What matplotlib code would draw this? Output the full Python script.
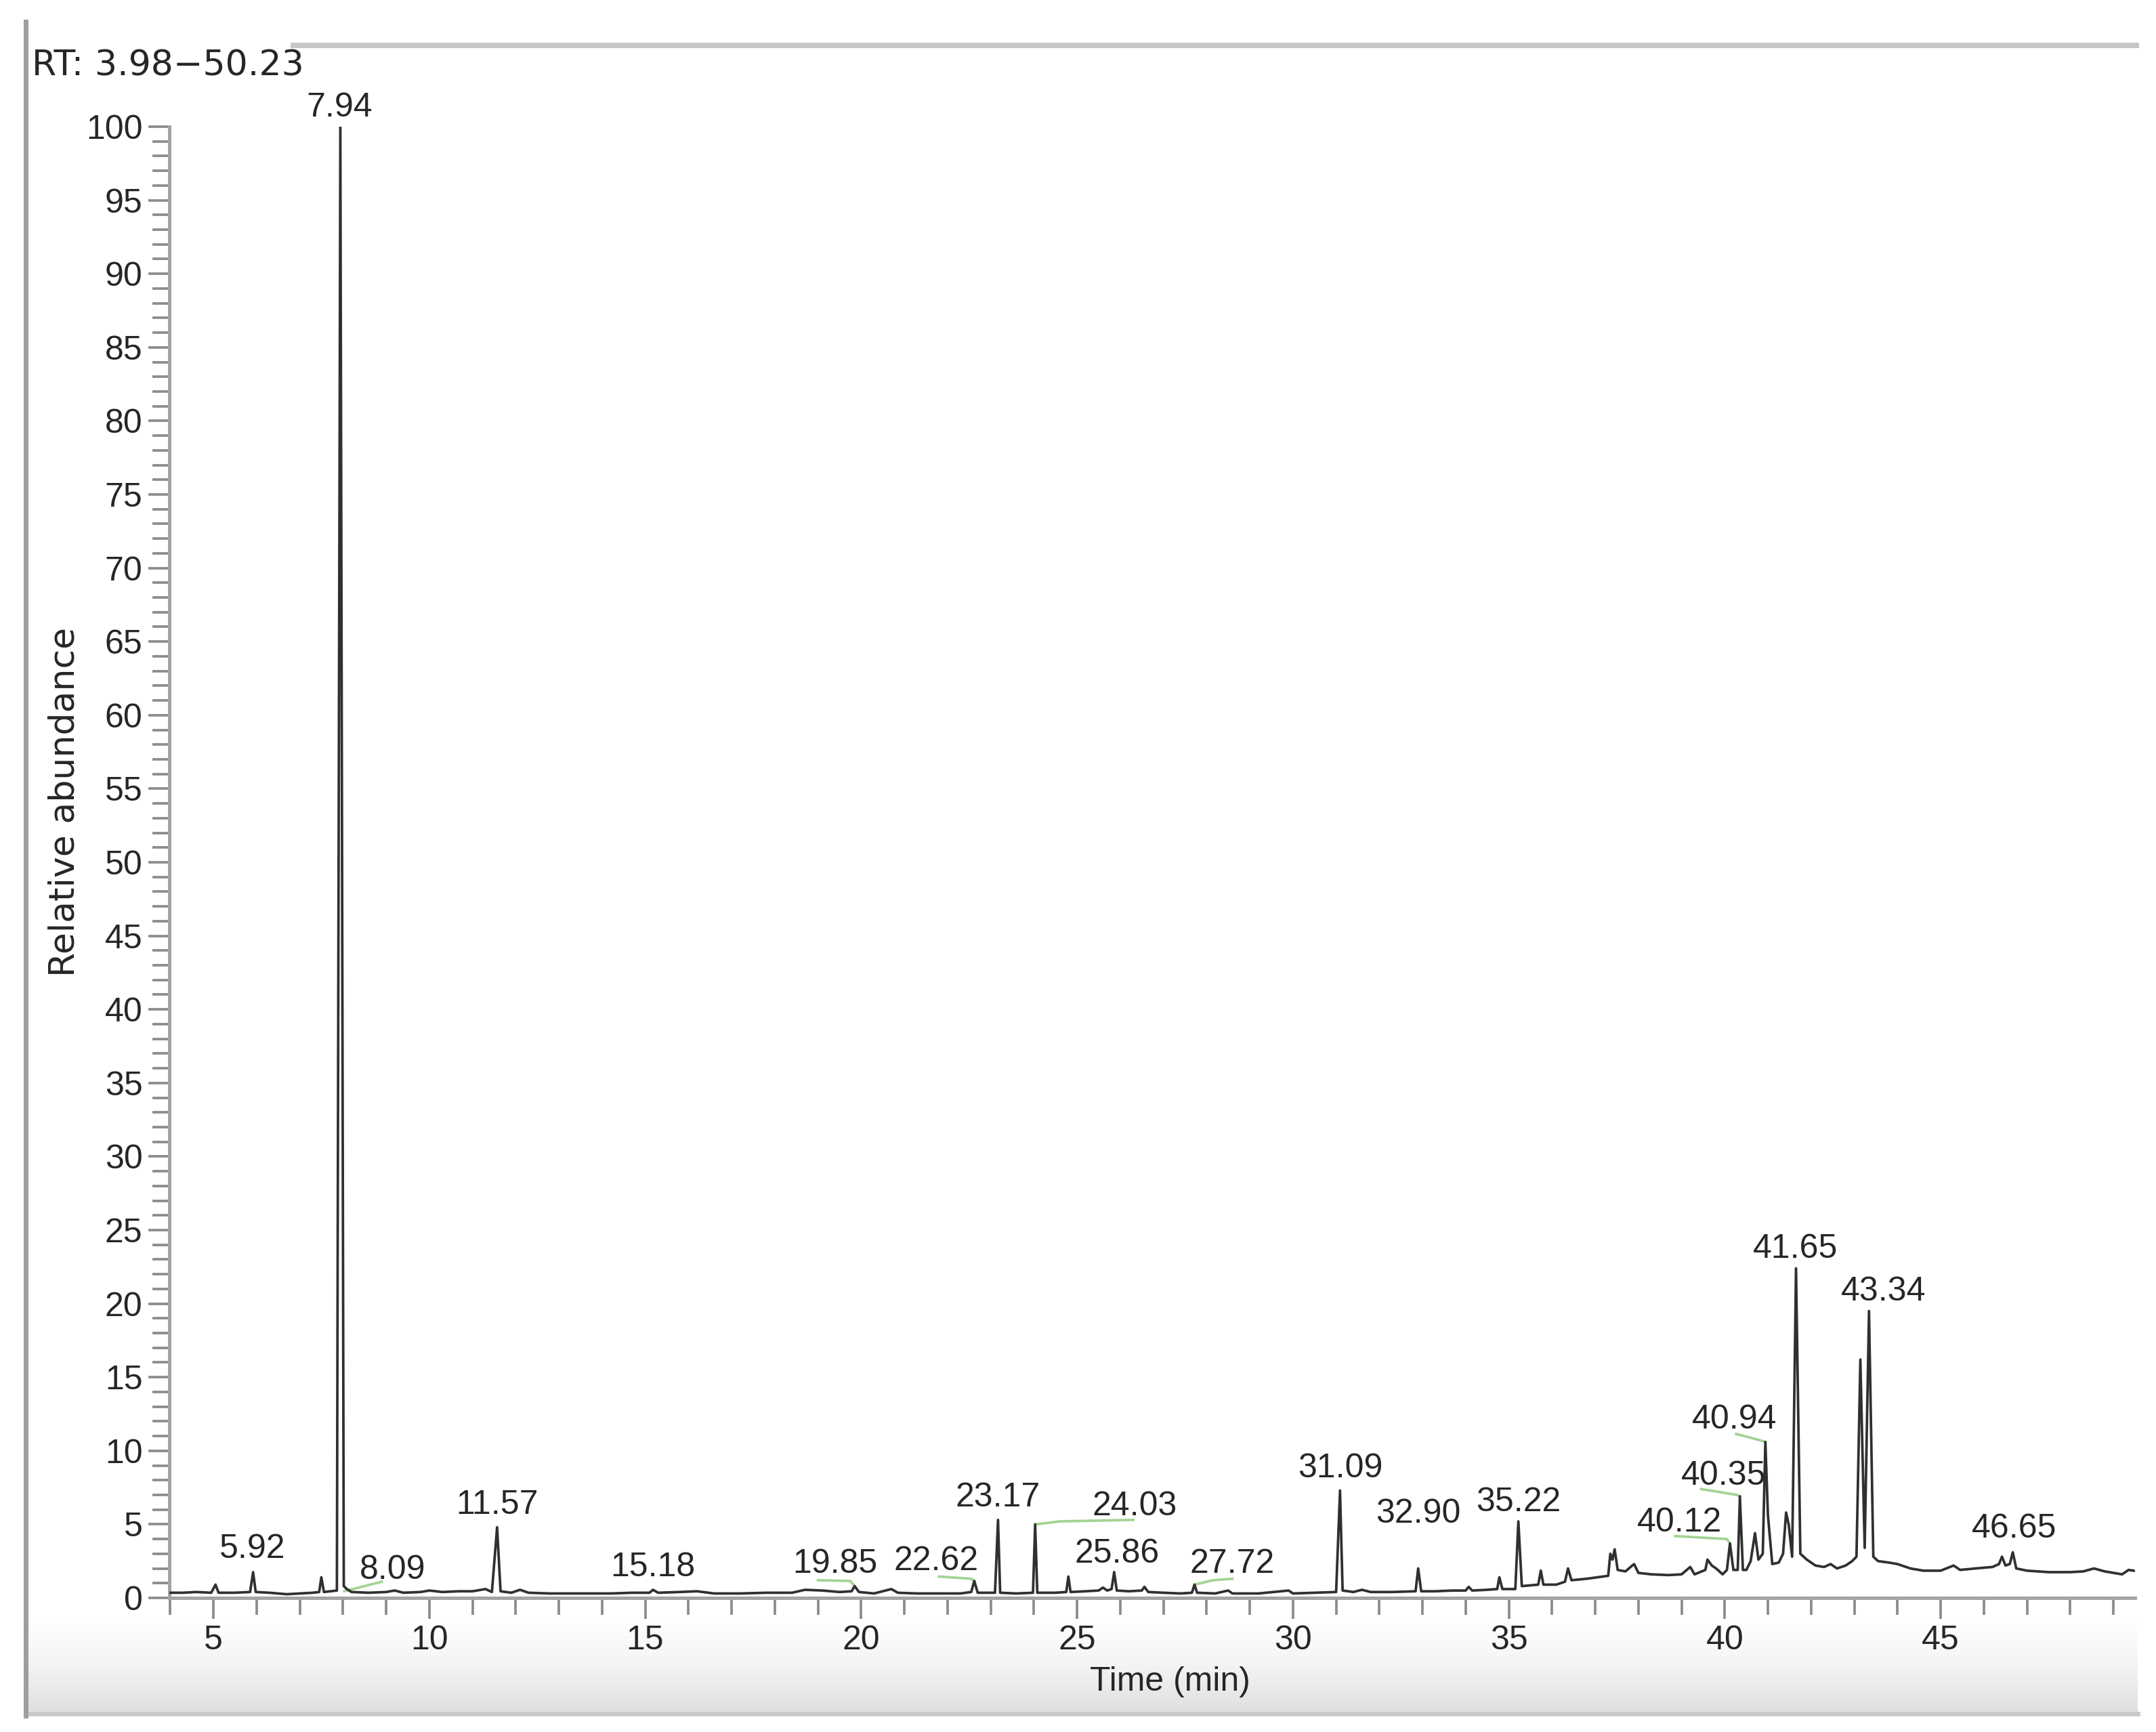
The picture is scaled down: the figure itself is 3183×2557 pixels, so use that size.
import numpy as np
import matplotlib as mpl
import matplotlib.pyplot as plt
from matplotlib.ticker import MultipleLocator
from matplotlib.colors import LinearSegmentedColormap

# -------------------- Settings --------------------
DPI = 300
FIGSIZE = (3183 / DPI, 2557 / DPI)
FIG_W, FIG_H = 3183, 2557

TEXT_C = "#262626"
AXIS_C = "#a4a4a4"
TRACE_C = "#303030"
GREEN = "#a3d394"

mpl.rcParams["font.family"] = ["Liberation Sans", "DejaVu Sans"]
mpl.rcParams["font.size"] = 12

# -------------------- Data --------------------
time_min = [
    3.98, 4.3, 4.6, 4.95, 5.05, 5.12, 5.5, 5.85, 5.92, 5.98,
    6.3, 6.7, 7.0, 7.3, 7.45, 7.5, 7.56, 7.86, 7.94, 8.02,
    8.09, 8.2, 8.6, 9.0, 9.2, 9.4, 9.8, 10.0, 10.3, 10.7,
    11.0, 11.3, 11.45, 11.57, 11.65, 11.9, 12.1, 12.3, 12.8, 13.5,
    14.2, 14.7, 15.1, 15.18, 15.3, 15.8, 16.2, 16.6, 17.2, 17.8,
    18.4, 18.7, 19.1, 19.5, 19.78, 19.85, 19.95, 20.3, 20.7, 20.85,
    21.3, 21.8, 22.3, 22.55, 22.62, 22.7, 23.1, 23.17, 23.22, 23.6,
    23.98, 24.03, 24.08, 24.5, 24.75, 24.8, 24.85, 25.2, 25.5, 25.6,
    25.7, 25.8, 25.86, 25.92, 26.2, 26.5, 26.56, 26.65, 27.0, 27.4,
    27.66, 27.72, 27.78, 28.2, 28.5, 28.6, 29.2, 29.9, 30.0, 30.5,
    31.0, 31.09, 31.15, 31.4, 31.6, 31.8, 32.3, 32.84, 32.90, 32.97,
    33.3, 33.7, 34.0, 34.07, 34.15, 34.5, 34.73, 34.78, 34.85, 35.15,
    35.22, 35.3, 35.5, 35.68, 35.74, 35.8, 36.1, 36.3, 36.37, 36.45,
    36.8, 37.05, 37.3, 37.35, 37.4, 37.45, 37.52, 37.7, 37.9, 38.0,
    38.3, 38.7, 39.0, 39.2, 39.3, 39.55, 39.6, 39.7, 39.8, 39.95,
    40.05, 40.12, 40.2, 40.3, 40.35, 40.42, 40.5, 40.6, 40.7, 40.78,
    40.88, 40.94, 41.0, 41.1, 41.25, 41.35, 41.42, 41.48, 41.56, 41.65,
    41.75, 41.9, 42.1, 42.3, 42.45, 42.6, 42.8, 42.95, 43.05, 43.14,
    43.24, 43.34, 43.44, 43.55, 43.8, 44.0, 44.3, 44.6, 45.0, 45.3,
    45.45, 45.8, 46.2, 46.35, 46.42, 46.5, 46.6, 46.67, 46.75, 47.0,
    47.5, 48.0, 48.3, 48.55, 48.8, 49.2, 49.35, 49.47,
]
rel_abundance = [
    0.35, 0.35, 0.4, 0.35, 0.9, 0.35, 0.35, 0.4, 1.75, 0.4,
    0.35, 0.25, 0.3, 0.35, 0.4, 1.4, 0.4, 0.5, 100.0, 0.8,
    0.6, 0.4, 0.35, 0.4, 0.5, 0.35, 0.4, 0.5, 0.4, 0.45,
    0.45, 0.6, 0.4, 4.8, 0.45, 0.35, 0.55, 0.35, 0.3, 0.3,
    0.3, 0.35, 0.35, 0.55, 0.35, 0.4, 0.45, 0.3, 0.3, 0.35,
    0.35, 0.55, 0.5, 0.4, 0.45, 0.8, 0.4, 0.3, 0.6, 0.35,
    0.3, 0.3, 0.3, 0.4, 1.15, 0.35, 0.35, 5.3, 0.35, 0.3,
    0.35, 5.0, 0.35, 0.35, 0.4, 1.45, 0.4, 0.45, 0.5, 0.7,
    0.5, 0.6, 1.75, 0.5, 0.45, 0.5, 0.75, 0.4, 0.35, 0.3,
    0.35, 0.9, 0.35, 0.3, 0.5, 0.3, 0.3, 0.5, 0.3, 0.35,
    0.4, 7.3, 0.5, 0.4, 0.55, 0.4, 0.4, 0.45, 2.0, 0.45,
    0.45, 0.5, 0.5, 0.75, 0.5, 0.55, 0.6, 1.4, 0.6, 0.6,
    5.2, 0.8, 0.85, 0.9, 1.85, 0.9, 0.9, 1.1, 2.0, 1.2,
    1.3, 1.4, 1.5, 3.0, 2.6, 3.3, 1.9, 1.8, 2.3, 1.7,
    1.6, 1.55, 1.6, 2.1, 1.6, 1.9, 2.6, 2.2, 2.0, 1.6,
    1.9, 3.7, 1.9, 1.9, 6.9, 1.9, 1.9, 2.5, 4.4, 2.6,
    3.0, 10.6, 5.6, 2.3, 2.4, 3.0, 5.8, 5.0, 2.8, 22.4,
    3.0, 2.6, 2.2, 2.1, 2.3, 2.0, 2.2, 2.5, 2.8, 16.2,
    3.4, 19.5, 2.8, 2.5, 2.4, 2.3, 2.0, 1.85, 1.85, 2.2,
    1.9, 2.0, 2.1, 2.3, 2.8, 2.2, 2.3, 3.1, 2.0, 1.85,
    1.75, 1.75, 1.8, 2.0, 1.8, 1.6, 1.9, 1.85,
]

# peak labels: text, x (min), y (abundance) of the label centre
peak_labels = ["7.94", "5.92", "8.09", "11.57", "15.18", "19.85", "22.62",
               "23.17", "24.03", "25.86", "27.72", "31.09", "32.90", "35.22",
               "40.12", "40.35", "40.94", "41.65", "43.34", "46.65"]
label_x = [7.92, 5.9, 9.15, 11.57, 15.17, 19.4, 21.74,
           23.17, 26.33, 25.92, 28.6, 31.1, 32.9, 35.22,
           38.95, 39.97, 40.23, 41.63, 43.67, 46.7]
label_y = [101.3, 3.3, 1.9, 6.3, 2.05, 2.3, 2.5,
           6.8, 6.2, 3.0, 2.3, 8.8, 5.7, 6.5,
           5.1, 8.3, 12.1, 23.7, 20.8, 4.7]

# green connectors from label to peak
link_x = [[8.03, 8.9], [19.0, 19.75, 19.85], [21.8, 22.55, 22.62],
          [24.05, 24.6, 26.3], [27.72, 28.15, 28.6],
          [38.85, 40.05, 40.12], [39.45, 40.28, 40.35], [40.26, 40.83, 40.94]]
link_y = [[0.45, 1.1], [1.2, 1.15, 0.8], [1.45, 1.3, 1.15],
          [5.0, 5.2, 5.3], [0.9, 1.2, 1.3],
          [4.2, 4.0, 3.7], [7.4, 7.0, 6.9], [11.15, 10.7, 10.6]]

# -------------------- Figure --------------------
fig = plt.figure(figsize=FIGSIZE, dpi=DPI)

# window frame decoration (pixel coordinates)
bg = fig.add_axes([0, 0, 1, 1], zorder=-1)
bg.set_xlim(0, FIG_W)
bg.set_ylim(FIG_H, 0)
bg.axis("off")
grad_cmap = LinearSegmentedColormap.from_list("g", ["#ffffff", "#f4f4f4", "#e0e0e0"])
bg.imshow(np.linspace(0, 1, 64).reshape(-1, 1), cmap=grad_cmap, aspect="auto",
          extent=[38, 3156, 2527, 2390], origin="upper")
bg.plot([38, 3156], [2530, 2530], color="#c8c8c8", lw=1.6)
bg.plot([38, 38], [32, 2533], color="#9e9e9e", lw=1.7)
bg.plot([433, 3154], [67, 67], color="#c6c6c6", lw=1.9)

ax = fig.add_axes([250 / FIG_W, (FIG_H - 2359) / FIG_H,
                   (3152 - 250) / FIG_W, (2359 - 187) / FIG_H])
ax.patch.set_alpha(0)

ax.plot(time_min, rel_abundance, color=TRACE_C, lw=0.9, zorder=3)

for xs, ys in zip(link_x, link_y):
    ax.plot(xs, ys, color=GREEN, lw=0.9, zorder=2)

for txt, lx, ly in zip(peak_labels, label_x, label_y):
    ax.text(lx, ly, txt, ha="center", va="center", fontsize=12,
            color=TEXT_C, clip_on=False, zorder=4)

ax.set_xlim(3.98, 49.5)
ax.set_ylim(0, 100)

for side in ["top", "right"]:
    ax.spines[side].set_visible(False)
for side in ["left", "bottom"]:
    ax.spines[side].set_color(AXIS_C)
    ax.spines[side].set_linewidth(1.2)

ax.xaxis.set_major_locator(MultipleLocator(5))
ax.xaxis.set_minor_locator(MultipleLocator(1))
ax.yaxis.set_major_locator(MultipleLocator(5))
ax.yaxis.set_minor_locator(MultipleLocator(1))
ax.tick_params(which="major", length=7.5, width=0.9, color="#8c8c8c",
               labelsize=12, labelcolor=TEXT_C, pad=2)
ax.tick_params(which="minor", length=6, width=0.9, color="#8c8c8c")
ax.set_xticks([5, 10, 15, 20, 25, 30, 35, 40, 45])

ax.set_xlabel("Time (min)", fontsize=12, color=TEXT_C, va="center")
ax.xaxis.set_label_coords(0.509, -0.057)
ax.set_ylabel("Relative abundance", fontsize=12.5, color=TEXT_C, va="center",
              family=["DejaVu Sans"])
ax.yaxis.set_label_coords(-0.0534, 0.541)

fig.text(47 / FIG_W, 1 - 97 / FIG_H, "RT: 3.98\u221250.23", ha="left", va="center",
         fontsize=12.5, color=TEXT_C, family=["DejaVu Sans"])

plt.savefig("out.png", dpi=DPI)
